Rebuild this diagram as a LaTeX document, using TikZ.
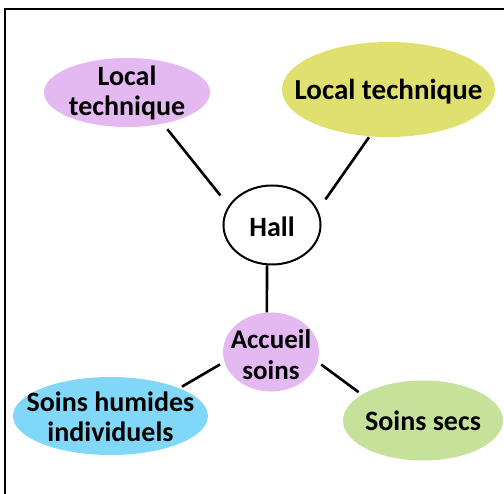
\documentclass[tikz,border=0pt]{standalone}
\usepackage{fontspec}
\setmainfont{Carlito}
\usetikzlibrary{shapes.geometric}
\definecolor{pinkc}{HTML}{E4B8F0}
\definecolor{yellowc}{HTML}{E0E070}
\definecolor{bluec}{HTML}{80D7F7}
\definecolor{greenc}{HTML}{C6E29A}
\begin{document}
\begin{tikzpicture}[x=1pt,y=-1pt,
  ell/.style={ellipse, inner sep=0pt},
  lab/.style={font=\fontsize{28}{30}\selectfont\bfseries, align=center, inner sep=0pt},
  conn/.style={line width=2.6pt}]
\useasboundingbox (0,0) rectangle (504,494);
\draw[line width=2pt] (5.3,494) -- (5.3,8.7) -- (504,8.7);
\node[ell, fill=pinkc, minimum width=166, minimum height=69,
  label={[lab]center:Local\\technique}] (lt) at (127,92.5) {};
\node[ell, fill=yellowc, minimum width=213, minimum height=95,
  label={[lab, font=\fontsize{29}{30}\selectfont\bfseries, yshift=-2pt]center:Local technique}] (rt) at (388.5,89.5) {};
\node[ell, draw, line width=2pt, fill=white, minimum width=97, minimum height=79,
  label={[lab, yshift=-2pt]center:Hall}] (hall) at (272,225) {};
\node[ell, fill=pinkc, minimum width=96, minimum height=79,
  label={[lab, font=\fontsize{27}{31}\selectfont\bfseries, yshift=-3pt]center:Accueil\\soins}] (acc) at (271,352) {};
\node[ell, fill=bluec, minimum width=195, minimum height=78,
  label={[lab, yshift=-1pt]center:Soins humides\\individuels}] (sh) at (110.5,416) {};
\node[ell, fill=greenc, minimum width=160, minimum height=80,
  label={[lab]center:Soins secs}] (ss) at (423,420.5) {};
\draw[conn, shorten <=7pt, shorten >=13pt] (lt.-41) -- (hall.156);
\draw[conn, shorten <=1pt, shorten >=13pt] (rt.-112) -- (hall.18);
\draw[conn] (hall.-97) -- (acc.96);
\draw[conn, shorten <=5pt, shorten >=3pt] (acc.192) -- (sh.22);
\draw[conn, shorten <=4.5pt, shorten >=4pt] (acc.-12.5) -- (ss.157);
\end{tikzpicture}
\end{document}
